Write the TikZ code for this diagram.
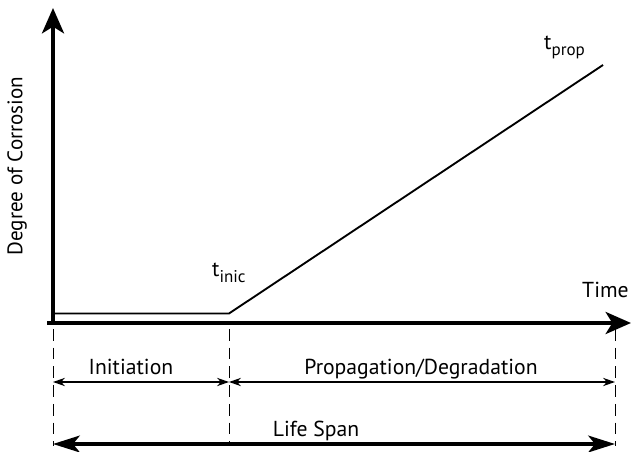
\documentclass[tikz,border=0pt]{standalone}
\usepackage{fontspec}
\setmainfont{PT Sans}
\usetikzlibrary{arrows.meta}

\newcommand{\subtxt}[1]{\raisebox{-4.7pt}{\fontsize{14.5}{14.5}\selectfont #1}}

\begin{document}
\begin{tikzpicture}[
      x=0.03cm, y=-0.03cm,
      every node/.style={font=\fontsize{18.5}{20}\selectfont, inner sep=0pt},
      axis/.style={line width=3.4pt, -{Stealth[length=0.76cm, width=0.66cm, inset=0.2cm]}},
      curve/.style={line width=1.6pt},
      guide/.style={line width=0.8pt, dash pattern=on 10pt off 6pt},
      span/.style={line width=1.3pt, {Stealth[length=0.36cm, width=0.25cm]}-{Stealth[length=0.36cm, width=0.25cm]}},
      lifespan/.style={line width=3.2pt, {Stealth[length=0.8cm, width=0.5cm, inset=0.2cm]}-{Stealth[length=0.8cm, width=0.5cm, inset=0.2cm]}}
    ]
    \useasboundingbox (0,0) rectangle (631,452);
    % axes
    \coordinate (origin) at (53,323);
    \coordinate (xstart) at (47,323);
    \coordinate (ytip) at (53,8);
    \coordinate (xtip) at (631,323);
    \draw[axis] (origin) -- (ytip);
    \draw[axis] (xstart) -- (xtip);
    % corrosion curve
    \coordinate (start) at (53,313.5);
    \coordinate (inic) at (229,313.5);
    \coordinate (prop) at (603,65);
    \draw[curve] (start) -- (inic) -- (prop);
    % labels
    \node[rotate=90, font=\fontsize{18}{20}\selectfont] (ylabel) at (17,166) {Degree of Corrosion};
    \node[anchor=base west] (xlabel) at (582,298) {Time};
    \node[anchor=base west] (tinic) at (212,277) {t\subtxt{inic}};
    \node[anchor=base west] (tprop) at (544,50) {t\subtxt{prop}};
    % guides
    \coordinate (g1) at (53,329);   \coordinate (g1b) at (53,446);
    \coordinate (g2) at (229,329);  \coordinate (g2b) at (229,446);
    \coordinate (g3) at (615,329);  \coordinate (g3b) at (615,446);
    \draw[guide] (g1) -- (g1b);
    \draw[guide] (g2) -- (g2b);
    \draw[guide] (g3) -- (g3b);
    % phases
    \coordinate (a1) at (53,382);  \coordinate (a2) at (229,382);  \coordinate (a3) at (615,382);
    \draw[span] (a1) -- (a2);
    \draw[span] (a2) -- (a3);
    \node[anchor=base] (initiation) at (131,375) {Initiation};
    \node[anchor=base] (propagation) at (421,375) {Propagation/Degradation};
    \coordinate (l1) at (53,444);  \coordinate (l2) at (615,444);
    \draw[lifespan] (l1) -- (l2);
    \node[anchor=base] (life) at (316,437) {Life Span};
\end{tikzpicture}
\end{document}
